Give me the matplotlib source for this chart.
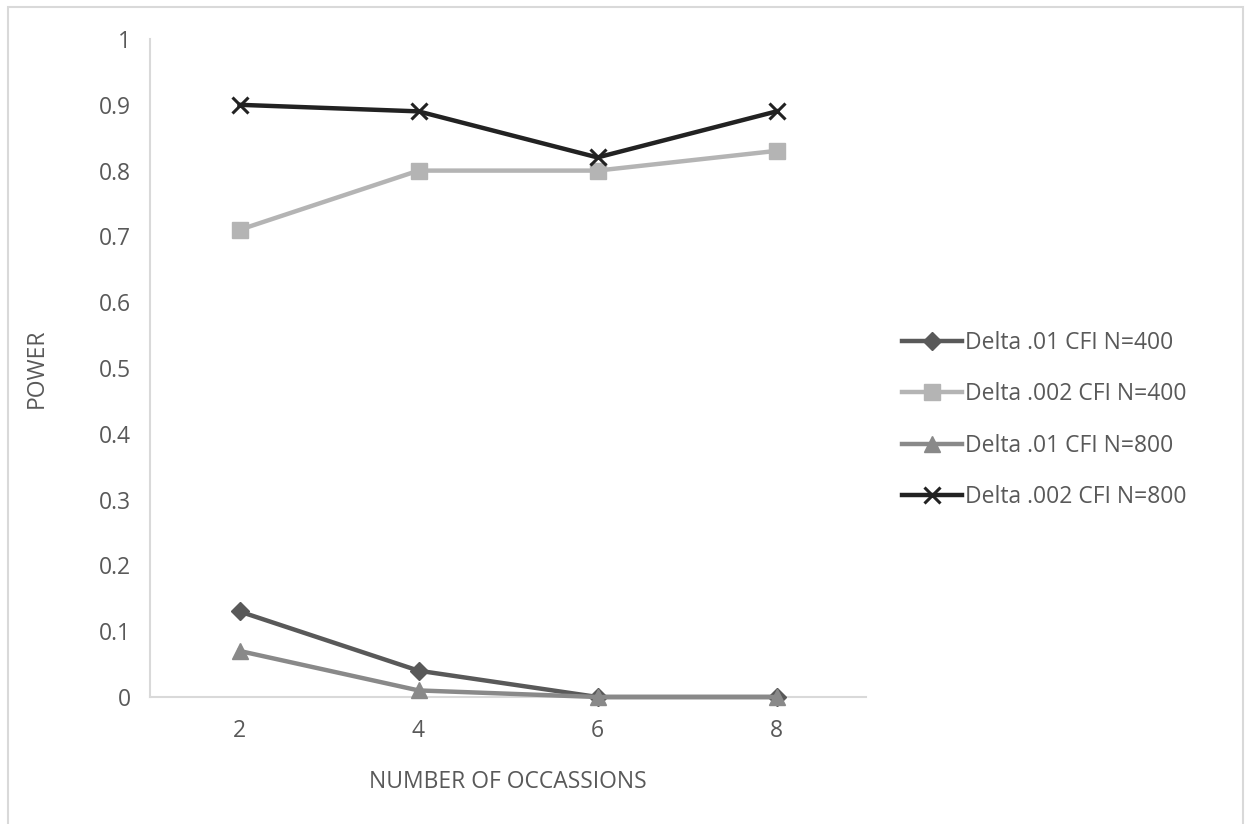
import matplotlib.pyplot as plt
from matplotlib.patches import Rectangle

# chart data
occasions = ["2", "4", "6", "8"]
d01_n400 = [0.13, 0.04, 0.0, 0.0]
d002_n400 = [0.71, 0.80, 0.80, 0.83]
d01_n800 = [0.07, 0.01, 0.0, 0.0]
d002_n800 = [0.90, 0.89, 0.82, 0.89]
labels = ["Delta .01 CFI N=400", "Delta .002 CFI N=400",
          "Delta .01 CFI N=800", "Delta .002 CFI N=800"]

plt.rcParams['font.family'] = ['Open Sans', 'DejaVu Sans']
txt = '#595959'
fs = 16.5

fig = plt.figure(figsize=(12.48, 8.24), dpi=100)
# outer chart border
fig.patches.append(Rectangle((8/1248, -0.05), 1235/1248, (824-7)/824 + 0.05,
                             transform=fig.transFigure, fill=False,
                             edgecolor='#d9d9d9', linewidth=1.5))
ax = fig.add_axes([150/1248, 127/824, 716/1248, 658/824])

x = range(len(occasions))
series = [
    (d01_n400, '#595959', 'D', 9),
    (d002_n400, '#b4b4b4', 's', 12),
    (d01_n800, '#898989', '^', 12),
    (d002_n800, '#222222', 'x', 11),
]
for (vals, col, mk, ms), lab in zip(series, labels):
    ax.plot(x, vals, color=col, linewidth=3.2, marker=mk, markersize=ms,
            markeredgewidth=2.2 if mk == 'x' else 1, markeredgecolor=col,
            markerfacecolor=col, label=lab, solid_joinstyle='round',
            clip_on=False)

ax.set_xlim(-0.5, 3.5)
ax.set_ylim(0, 1)
ax.set_xticks(list(x))
ax.set_xticklabels(occasions)
ax.set_yticks([i / 10 for i in range(11)])
ax.set_yticklabels(['0', '0.1', '0.2', '0.3', '0.4', '0.5', '0.6', '0.7', '0.8', '0.9', '1'])
ax.tick_params(length=0, labelsize=fs, colors=txt, pad=14)
ax.tick_params(axis='x', pad=16)
for s in ['top', 'right']:
    ax.spines[s].set_visible(False)
for s in ['left', 'bottom']:
    ax.spines[s].set_color('#d9d9d9')
    ax.spines[s].set_linewidth(1.5)
    ax.spines[s].set_zorder(0)

ax.set_ylabel('POWER', fontsize=fs, color=txt, labelpad=36)
ax.set_xlabel('NUMBER OF OCCASSIONS', fontsize=fs, color=txt, labelpad=19)

fig.legend(loc='center left', bbox_to_anchor=(902/1248, 1 - 420/824), frameon=False,
           fontsize=fs, labelcolor=txt, handlelength=2.6, handletextpad=0.15,
           labelspacing=1.2, borderaxespad=0, borderpad=0)

fig.savefig('out.png', dpi=100)
